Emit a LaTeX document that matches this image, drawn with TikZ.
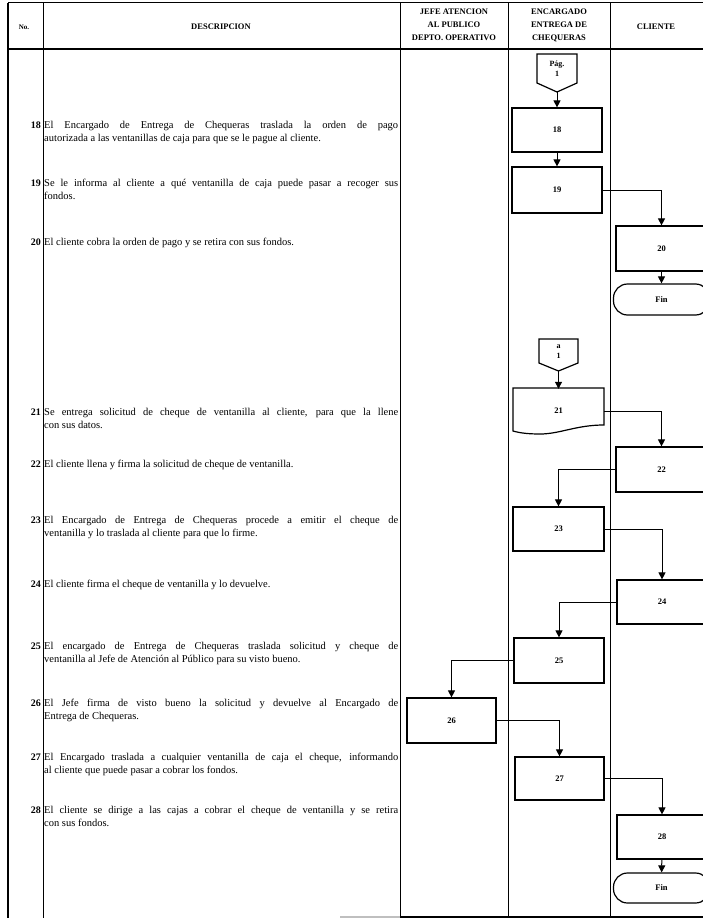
\documentclass[tikz,border=0pt]{standalone}
\usepackage{fontspec}
\setmainfont{Liberation Serif}
\usetikzlibrary{arrows.meta}
\newcommand\jline[1]{\makebox[354pt][s]{#1}}
\begin{document}
\begin{tikzpicture}[x=1pt,y=-1pt,
  box/.style={draw,line width=1.2pt,minimum width=90pt,minimum height=44pt,inner sep=0pt,font=\bfseries\fontsize{8.5}{10}\selectfont},
  term/.style={box,rounded corners=14pt,minimum width=96pt,minimum height=31pt},
  conn/.style={inner sep=0pt,align=center,font=\bfseries\fontsize{8}{10}\selectfont},
  flow/.style={line width=1pt,-{Triangle[width=7pt,length=7pt]}},
  num/.style={anchor=east,inner sep=0pt,font=\bfseries\fontsize{10}{12}\selectfont},
  desc/.style={anchor=north west,inner sep=0pt,align=left,font=\fontsize{10.5}{13}\selectfont},
  hdr/.style={inner sep=0pt,align=center,font=\bfseries\fontsize{8.5}{13}\selectfont},
  grid/.style={line width=1pt},
  thickgrid/.style={line width=1.6pt}
]
\useasboundingbox (0,0) rectangle (703,920);
\clip (0,0) rectangle (703,920);

% ---- table frame ----
\draw[grid] (8,3) -- (703,3);
\draw[thickgrid] (8,49) -- (703,49);
\draw[thickgrid] (8,3) -- (8,918);
\draw[grid] (43,3) -- (43,918);
\draw[grid] (400,3) -- (400,918);
\draw[grid] (508,3) -- (508,918);
\draw[grid] (610,3) -- (610,918);
\draw[line width=2pt,black!25] (340,917) -- (400,917);
\draw[thickgrid] (400,917) -- (703,917);

% ---- header ----
\node[hdr,font=\bfseries\fontsize{7}{9}\selectfont] (hno) at (24,27) {No.};
\node[hdr] (hdesc) at (221,27) {DESCRIPCION};
\node[hdr] (hjefe) at (454,25) {JEFE ATENCION\\AL PUBLICO\\DEPTO. OPERATIVO};
\node[hdr] (henc) at (559,25) {ENCARGADO\\ENTREGA DE\\CHEQUERAS};
\node[hdr] (hcli) at (656,27) {CLIENTE};

% ---- descriptions ----
\node[num] (n18) at (41,125) {18};
\node[desc] (t18) at (44,121) {\jline{El Encargado de Entrega de Chequeras traslada la orden de pago}\\autorizada a las ventanillas de caja para que se le pague al cliente.};
\node[num] (n19) at (41,183) {19};
\node[desc] (t19) at (44,179) {\jline{Se le informa al cliente a qué ventanilla de caja puede pasar a recoger sus}\\fondos.};
\node[num] (n20) at (41,242) {20};
\node[desc] (t20) at (44,238) {El cliente cobra la orden de pago y se retira con sus fondos.};
\node[num] (n21) at (41,412) {21};
\node[desc] (t21) at (44,408) {\jline{Se entrega solicitud de cheque de ventanilla al cliente, para que la llene}\\con sus datos.};
\node[num] (n22) at (41,464) {22};
\node[desc] (t22) at (44,460) {El cliente llena y firma la solicitud de cheque de ventanilla.};
\node[num] (n23) at (41,520) {23};
\node[desc] (t23) at (44,516) {\jline{El Encargado de Entrega de Chequeras procede a emitir el cheque de}\\ventanilla y lo traslada al cliente para que lo firme.};
\node[num] (n24) at (41,584) {24};
\node[desc] (t24) at (44,580) {El cliente firma el cheque de ventanilla y lo devuelve.};
\node[num] (n25) at (41,646) {25};
\node[desc] (t25) at (44,642) {\jline{El encargado de Entrega de Chequeras traslada solicitud y cheque de}\\ventanilla al Jefe de Atención al Público para su visto bueno.};
\node[num] (n26) at (41,703) {26};
\node[desc] (t26) at (44,699) {\jline{El Jefe firma de visto bueno la solicitud y devuelve al Encargado de}\\Entrega de Chequeras.};
\node[num] (n27) at (41,757) {27};
\node[desc] (t27) at (44,753) {\jline{El Encargado traslada a cualquier ventanilla de caja el cheque, informando}\\al cliente que puede pasar a cobrar los fondos.};
\node[num] (n28) at (41,810) {28};
\node[desc] (t28) at (44,806) {\jline{El cliente se dirige a las cajas a cobrar el cheque de ventanilla y se retira}\\con sus fondos.};

% ---- off-page connector Pág. 1 ----
\draw[line width=1.2pt] (537,54) -- (577,54) -- (577,83) -- (557,92) -- (537,83) -- cycle;
\node[conn] (pag1) at (557,69) {Pág.\\1};
\coordinate (pag1tip) at (557,92);

% ---- boxes ----
\node[box] (b18) at (557,130) {18};
\node[box,minimum height=46pt] (b19) at (557,190) {19};
\node[box,minimum width=91pt,minimum height=45pt] (b20) at (661.5,248.5) {20};
\node[term] (fin1) at (661.5,299.5) {Fin};

% ---- connector a 1 ----
\draw[line width=1.2pt] (539,339) -- (578,339) -- (578,363) -- (558.5,371) -- (539,363) -- cycle;
\node[conn] (a1) at (558.5,352) {a\\1};
\coordinate (a1tip) at (558.5,371);

% ---- document 21 ----
\node[inner sep=0pt,minimum width=91pt,minimum height=44pt,font=\bfseries\fontsize{8.5}{10}\selectfont] (d21) at (558.5,411) {21};
\draw[line width=1.2pt] (513,388) -- (604,388) -- (604,425)
  .. controls (576,425) and (560,434) .. (540,434)
  .. controls (528,434) and (520,433) .. (513,431) -- cycle;

\node[box,minimum width=91pt,minimum height=45pt] (b22) at (661.5,469.5) {22};
\node[box,minimum width=91pt] (b23) at (558.5,529) {23};
\node[box] (b24) at (662,602) {24};
\node[box,minimum height=45pt] (b25) at (559,660.5) {25};
\node[box,minimum width=89pt,minimum height=45pt] (b26) at (451.5,720.5) {26};
\node[box,minimum width=89pt,minimum height=43pt] (b27) at (559.5,778.5) {27};
\node[box] (b28) at (662,837) {28};
\node[term,minimum height=30pt] (fin2) at (661.5,888) {Fin};

% ---- flows ----
\draw[flow] (pag1tip) -- (b18.north);
\draw[flow] (b18) -- (b19);
\draw[flow] (b19.east) -| (b20.north);
\draw[flow] (b20) -- (fin1);
\draw[flow] (a1tip) -- (d21.north);
\draw[flow] (d21.east) -| (b22.north);
\draw[flow] (b22.west) -| (b23.north);
\draw[flow] (b23.east) -| (b24.north);
\draw[flow] (b24.west) -| (b25.north);
\draw[flow] (b25.west) -| (b26.north);
\draw[flow] (b26.east) -| (b27.north);
\draw[flow] (b27.east) -| (b28.north);
\draw[flow] (b28) -- (fin2);
\end{tikzpicture}
\end{document}
